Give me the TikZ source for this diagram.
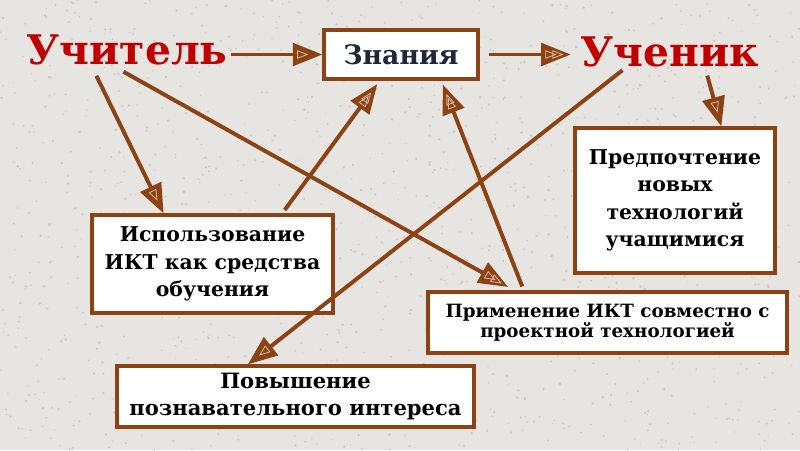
\documentclass[tikz,border=0pt]{standalone}
\usepackage{fontspec}
\setmainfont{DejaVu Serif}
\usepackage{tikz}
\usetikzlibrary{arrows.meta, decorations.markings}
\definecolor{themebrown}{RGB}{140,66,18}
\definecolor{themered}{RGB}{192,0,0}
\definecolor{themenavy}{RGB}{30,40,56}
\definecolor{themepaper}{RGB}{231,229,226}
\definecolor{themespeck}{RGB}{205,203,200}
\definecolor{themeglint}{RGB}{215,180,160}

\begin{document}
\begin{tikzpicture}[
    x=0.025cm, y=-0.025cm,
    base/.style={rectangle, draw=themebrown, line width=2.3pt, fill=white, align=center, text=black, inner sep=3pt},
    actor/.style={rectangle, text=themered, font=\fontsize{29}{34}\selectfont\bfseries, inner sep=2pt},
    goal/.style={base, text=themenavy, font=\fontsize{19}{22}\selectfont\bfseries, minimum width=3.85cm, minimum height=1.225cm},
    method/.style={base, font=\fontsize{14.5}{19.5}\selectfont\bfseries},
    line/.style={draw=themebrown, line width=2.8pt, -{Triangle[length=21pt, width=16pt]}, glint},
    glint/.style={postaction={decorate, decoration={markings, mark=at position 1 with {\arrow[xshift=#1]{Triangle[open, length=8pt, width=6pt, line width=0.6pt, color=themeglint]}}}}},
    glint/.default=-10pt
]

\useasboundingbox (0,0) rectangle (800,450);
\fill[themepaper] (0,0) rectangle (800,450);
\pgfmathsetseed{7}
\foreach \i in {1,...,1400}
  \fill[themespeck] (800*rnd,450*rnd) circle[radius=0.6+0.8*rnd];

\node[actor] (uch) at (127,50) {Учитель};
\node[goal] (zn) at (401,54.5) {Знания};
\node[actor] (uchen) at (670,52) {Ученик};

\node[method, minimum width=5cm, minimum height=3.625cm] (pred) at (675,200.5) {Предпочтение\\новых\\технологий\\учащимися};
\node[method, minimum width=6.025cm, minimum height=2.45cm] (isp) at (212.5,264) {Использование\\ИКТ как средства\\обучения};
\node[method, font=\fontsize{13}{14.5}\selectfont\bfseries, minimum width=8.975cm, minimum height=1.525cm] (prim) at (607.5,322.5) {Применение ИКТ совместно с\\проектной технологией};
\node[method, font=\fontsize{15}{19.5}\selectfont\bfseries, minimum width=8.925cm, minimum height=1.525cm] (pov) at (295.5,396.5) {Повышение\\познавательного интереса};

\draw[line] (uch.east |- zn.west) -- (zn.west);
\draw[line, glint=-15pt, shorten <=7pt, shorten >=5pt] (zn.east) -- (uchen.west |- zn.east);
\draw[line, shorten <=4pt] (uchen.333) -- (pred.58);
\draw[line, shorten <=6pt] (uch.208) -- (isp.134);
\draw[line, glint=-15pt, shorten <=5pt, shorten >=5pt] (uch.242) -- (prim.161);
\draw[line, glint=-13pt, shorten <=3pt, shorten >=3pt] (isp.36) -- (zn.231);
\draw[line, glint=-13pt, shorten <=3pt, shorten >=3pt] (prim.159) -- (zn.327);
\draw[line] (uchen.201) -- (pov.146);

\end{tikzpicture}
\end{document}
